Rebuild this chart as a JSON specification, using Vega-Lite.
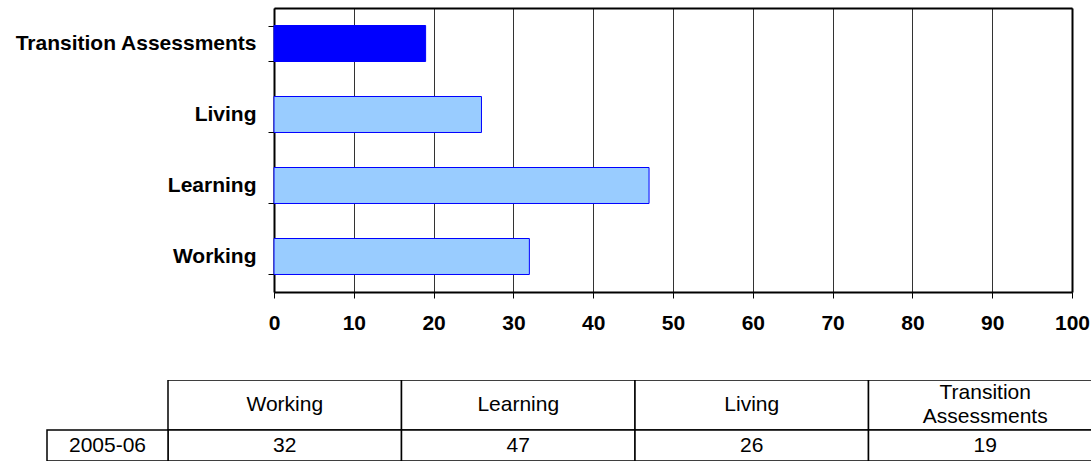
{
  "$schema": "https://vega.github.io/schema/vega-lite/v6.json",
  "autosize": {"type": "pad"},
  "padding": {"left": 14, "top": -3, "right": 0, "bottom": 0},
  "config": {
    "view": {"stroke": null},
    "font": "Liberation Sans",
    "text": {"font": "Liberation Sans", "color": "#000"}
  },
  "datasets": {
    "main": [
      {"category": "Working", "value": 32},
      {"category": "Learning", "value": 47},
      {"category": "Living", "value": 26},
      {"category": "Transition Assessments", "value": 19}
    ],
    "periods": [{"period": "2005-06"}]
  },
  "bounds": "flush",
  "spacing": 0,
  "vconcat": [
    {
      "width": 1045,
      "height": 372,
      "data": {"name": "main"},
      "layer": [
        {
          "mark": {"type": "bar", "stroke": "#0000FF", "strokeWidth": 1},
          "encoding": {
            "y": {
              "field": "category",
              "type": "nominal",
              "sort": ["Transition Assessments", "Living", "Learning", "Working"],
              "scale": {"range": [0, 284], "paddingInner": 0.493, "paddingOuter": 0.2465},
              "axis": {
                "orient": "left",
                "offset": -228,
                "title": null,
                "tickBand": "extent",
                "labelFont": "Liberation Sans",
                "labelFontWeight": "bold",
                "labelFontSize": 21,
                "labelColor": "#000",
                "labelPadding": 12,
                "labelLimit": 400,
                "tickSize": 6,
                "tickColor": "#000",
                "tickWidth": 1,
                "domainColor": "#000",
                "domainWidth": 2
              }
            },
            "x": {
              "field": "value",
              "type": "quantitative",
              "scale": {"domain": [0, 100], "range": [228, 1026], "nice": false},
              "axis": {
                "orient": "bottom",
                "offset": -88,
                "title": null,
                "values": [0, 10, 20, 30, 40, 50, 60, 70, 80, 90, 100],
                "grid": false,
                "tickSize": 6,
                "tickColor": "#000",
                "tickWidth": 1,
                "labelFont": "Liberation Sans",
                "labelFontWeight": "bold",
                "labelFontSize": 21,
                "labelColor": "#000",
                "labelPadding": 14,
                "labelFlush": false,
                "labelOverlap": false,
                "domainColor": "#000",
                "domainWidth": 2
              }
            },
            "color": {
              "field": "category",
              "type": "nominal",
              "scale": {
                "domain": ["Working", "Learning", "Living", "Transition Assessments"],
                "range": ["#99CCFF", "#99CCFF", "#99CCFF", "#0000FF"]
              },
              "legend": null
            }
          }
        },
        {
          "mark": {"type": "bar", "opacity": 0},
          "encoding": {
            "y": {
              "field": "category",
              "type": "nominal",
              "sort": ["Transition Assessments", "Living", "Learning", "Working"],
              "scale": {"range": [0, 284], "paddingInner": 0.493, "paddingOuter": 0.2465},
              "axis": {
                "orient": "right",
                "offset": -19,
                "title": null,
                "labels": false,
                "ticks": false,
                "grid": false,
                "domainColor": "#000",
                "domainWidth": 2
              }
            },
            "x": {
              "field": "value",
              "type": "quantitative",
              "scale": {"domain": [0, 100], "range": [228, 1026], "nice": false},
              "axis": {
                "orient": "top",
                "title": null,
                "values": [0, 10, 20, 30, 40, 50, 60, 70, 80, 90, 100],
                "labels": false,
                "ticks": false,
                "grid": true,
                "gridColor": "#333",
                "gridWidth": 1,
                "domainColor": "#000",
                "domainWidth": 2
              }
            }
          }
        }
      ],
      "resolve": {"axis": {"x": "independent", "y": "independent"}}
    },
    {
      "width": 1045,
      "height": 81,
      "layer": [
        {
          "data": {"name": "main"},
          "encoding": {
            "x": {
              "field": "category",
              "type": "nominal",
              "sort": ["Working", "Learning", "Living", "Transition Assessments"],
              "scale": {"type": "band", "range": [122, 1056], "paddingInner": 0, "paddingOuter": 0},
              "axis": null
            },
            "y": {
              "datum": "Header",
              "type": "nominal",
              "scale": {"type": "band", "domain": ["Header"], "range": [0, 50], "paddingInner": 0, "paddingOuter": 0},
              "axis": null
            }
          },
          "layer": [
            {"mark": {"type": "rect", "fill": "#fff", "stroke": "#000", "strokeWidth": 1.5, "clip": true}},
            {
              "transform": [{"filter": "datum.category != 'Transition Assessments'"}],
              "mark": {"type": "text", "fontSize": 21, "font": "Liberation Sans", "color": "#000"},
              "encoding": {"text": {"field": "category"}}
            },
            {
              "transform": [{"filter": "datum.category == 'Transition Assessments'"}],
              "mark": {"type": "text", "lineBreak": " ", "lineHeight": 24, "dy": -12, "fontSize": 21, "font": "Liberation Sans", "color": "#000"},
              "encoding": {"text": {"field": "category"}}
            }
          ]
        },
        {
          "data": {"name": "main"},
          "encoding": {
            "x": {
              "field": "category",
              "type": "nominal",
              "sort": ["Working", "Learning", "Living", "Transition Assessments"],
              "scale": {"type": "band", "range": [122, 1056], "paddingInner": 0, "paddingOuter": 0},
              "axis": null
            },
            "y": {
              "datum": "2005-06",
              "type": "nominal",
              "scale": {"type": "band", "domain": ["2005-06"], "range": [50, 81], "paddingInner": 0, "paddingOuter": 0},
              "axis": null
            }
          },
          "layer": [
            {"mark": {"type": "rect", "fill": "#fff", "stroke": "#000", "strokeWidth": 1.5, "clip": true}},
            {
              "mark": {"type": "text", "fontSize": 21, "font": "Liberation Sans", "color": "#000"},
              "encoding": {"text": {"field": "value", "type": "quantitative"}}
            }
          ]
        },
        {
          "data": {"name": "periods"},
          "encoding": {
            "x": {
              "field": "period",
              "type": "nominal",
              "scale": {"type": "band", "range": [1, 122], "paddingInner": 0, "paddingOuter": 0},
              "axis": null
            },
            "y": {
              "field": "period",
              "type": "nominal",
              "scale": {"type": "band", "range": [50, 81], "paddingInner": 0, "paddingOuter": 0},
              "axis": null
            }
          },
          "layer": [
            {"mark": {"type": "rect", "fill": "#fff", "stroke": "#000", "strokeWidth": 1.5, "clip": true}},
            {
              "mark": {"type": "text", "fontSize": 21, "font": "Liberation Sans", "color": "#000"},
              "encoding": {"text": {"field": "period"}}
            }
          ]
        }
      ],
      "resolve": {"scale": {"x": "independent", "y": "independent"}}
    }
  ]
}
